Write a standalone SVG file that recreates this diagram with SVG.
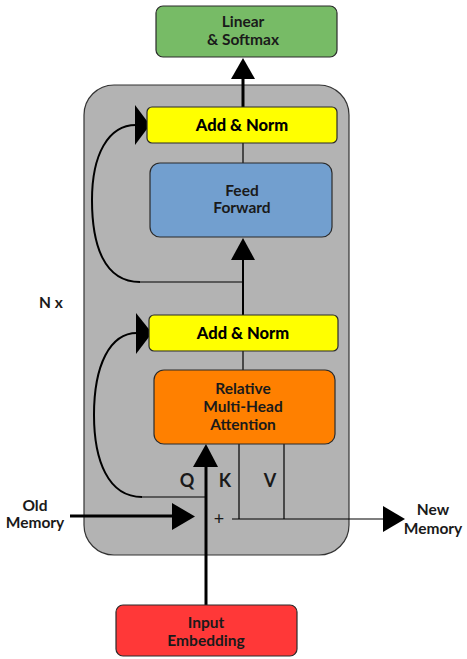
<svg xmlns="http://www.w3.org/2000/svg" width="467" height="659" viewBox="0 0 467 659">
<style>
.box{stroke:#2b2b2b;stroke-width:1.2}
.t{font-family:Lato,"Open Sans","DejaVu Sans",sans-serif;font-size:15.5px;fill:#1a1a1a;text-anchor:middle;font-weight:bold}
.b{font-family:Lato,"Open Sans","DejaVu Sans",sans-serif;font-size:16.5px;fill:#000;text-anchor:middle;font-weight:900}
.l{fill:none;stroke:#000;stroke-width:1.2}
.thick{fill:none;stroke:#000;stroke-width:3}
.c{fill:none;stroke:#000;stroke-width:2}
</style>
<rect width="467" height="659" fill="#ffffff"/>
<g id="container">
<rect x="84" y="85" width="265" height="470" rx="30" ry="30" fill="#b3b3b3" stroke="#333" stroke-width="1.2"/>
</g>
<g id="connectors">
<line class="l" x1="239" y1="444" x2="239" y2="519"/>
<line class="l" x1="284" y1="444" x2="284" y2="519"/>
<line class="l" x1="232" y1="519" x2="384" y2="519"/>
<polygon points="383,506 405,519 383,532" fill="#000"/>
<line class="thick" x1="70" y1="516" x2="174" y2="516"/>
<polygon points="172,503 195,516.5 172,530" fill="#000"/>
<line class="thick" x1="206" y1="605" x2="206" y2="465"/>
<polygon points="193,467 206,444 218,467" fill="#000"/>
<line class="l" x1="243" y1="351" x2="243" y2="370"/>
<line class="l" x1="243" y1="143" x2="243" y2="163"/>
<line class="c" x1="243" y1="315" x2="243" y2="258"/>
<polygon points="231,260 243,238 255,260" fill="#000"/>
<line class="thick" x1="243" y1="107" x2="243" y2="78"/>
<polygon points="231,79 243,58 255,79" fill="#000"/>
<line class="l" x1="142" y1="497" x2="206" y2="497"/>
<path class="c" d="M142,497 C108,497 94,460 94,415 C94,365 110,333 137,333"/>
<polygon points="136,313 152,333 136,354" fill="#000"/>
<line class="l" x1="140" y1="282" x2="243" y2="282"/>
<path class="c" d="M140,282 C104,282 92,245 92,200 C92,155 108,125 136,125"/>
<polygon points="135,105 150,125 135,145" fill="#000"/>
</g>
<g id="linear">
<rect class="box" x="156" y="6" width="181" height="51" rx="7" fill="#77bb66"/>
<text class="t" x="243" y="27">Linear</text>
<text class="t" x="243" y="45">&amp; Softmax</text>
</g>
<g id="addnorm2">
<rect class="box" x="147" y="107" width="190" height="36" rx="5" fill="#ffff00"/>
<text class="b" x="242" y="131">Add &amp; Norm</text>
</g>
<g id="ff">
<rect class="box" x="150" y="163" width="182" height="74" rx="10" fill="#729fcf"/>
<text class="t" x="242" y="196">Feed</text>
<text class="t" x="242" y="213">Forward</text>
</g>
<g id="addnorm1">
<rect class="box" x="149" y="315" width="189" height="36" rx="5" fill="#ffff00"/>
<text class="b" x="243" y="339">Add &amp; Norm</text>
</g>
<g id="mha">
<rect class="box" x="154" y="370" width="181" height="74" rx="10" fill="#ff8000"/>
<text class="t" x="243" y="394">Relative</text>
<text class="t" x="243" y="412">Multi-Head</text>
<text class="t" x="243" y="430">Attention</text>
</g>
<g id="input">
<rect class="box" x="116" y="605" width="181" height="51" rx="7" fill="#ff3838"/>
<text class="t" x="206" y="628">Input</text>
<text class="t" x="206" y="646">Embedding</text>
</g>
<g id="labels">
<text class="t" x="51" y="308">N x</text>
<text class="t" x="187" y="487" style="font-size:18px">Q</text>
<text class="t" x="225" y="487" style="font-size:18px">K</text>
<text class="t" x="270" y="487" style="font-size:18px">V</text>
<text class="t" x="219" y="525" style="font-size:18px;font-weight:normal">+</text>
<text class="t" x="35" y="511">Old</text>
<text class="t" x="35" y="528">Memory</text>
<text class="t" x="433" y="515">New</text>
<text class="t" x="433" y="534">Memory</text>
</g>
</svg>
